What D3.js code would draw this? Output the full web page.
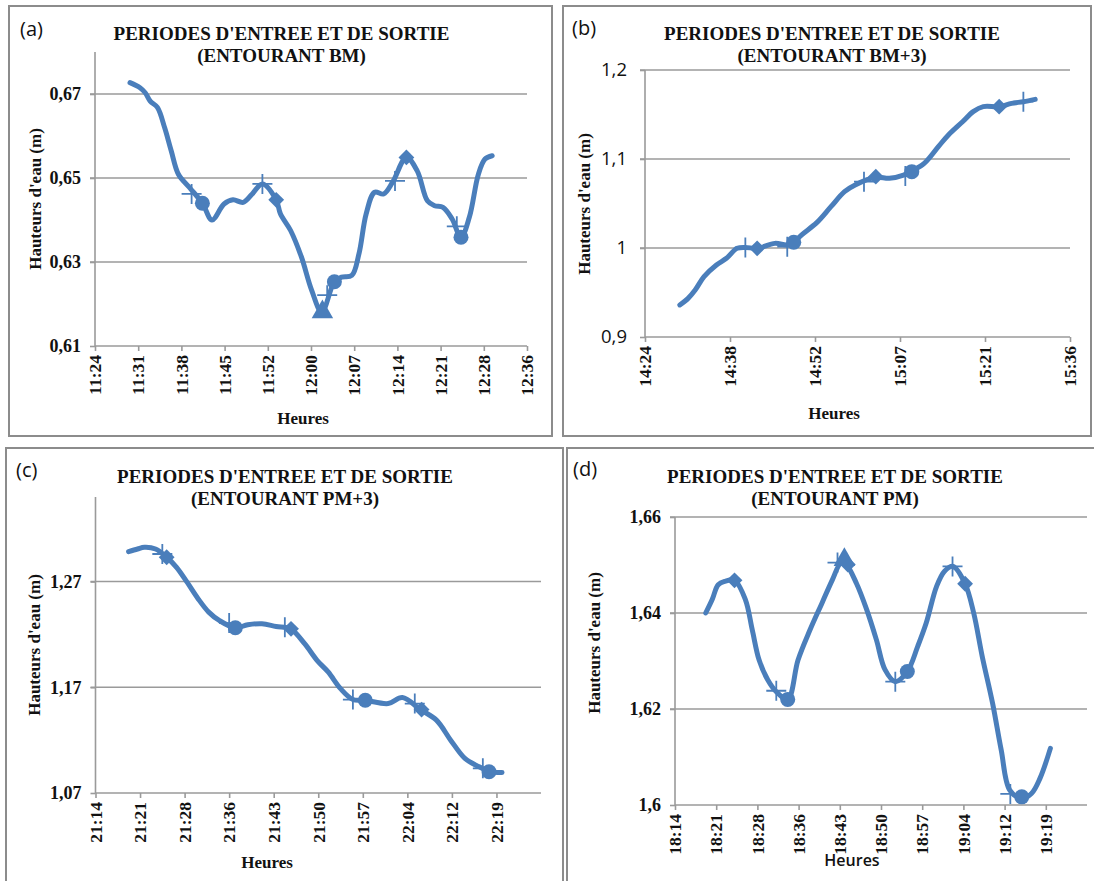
<!DOCTYPE html>
<html>
<head>
<meta charset="utf-8">
<script src="https://cdn.jsdelivr.net/npm/d3@7"></script>
<style>
  html, body { margin: 0; padding: 0; background: #ffffff; }
  svg { display: block; }
</style>
</head>
<body>
<svg id="chart" width="1094" height="881"></svg>
<script>
// ---- (a) Entourant BM ----
const lineTimesA = ["11:29:50","11:31:30","11:32:22","11:33:12","11:34:24","11:35:36","11:36:42","11:37:54","11:39:42","11:41:54","11:43:30","11:45:30","11:47:00","11:48:42","11:50:12","11:51:54","11:54:12","11:54:54","11:56:36","11:58:24","12:00:06","12:01:48","12:03:54","12:05:06","12:06:48","12:08:00","12:09:12","12:10:36","12:12:06","12:13:36","12:15:54","12:17:42","12:19:24","12:20:36","12:22:00","12:23:30","12:25:00","12:26:24","12:27:54","12:29:00","12:30:12"];
const lineHeightsA = [0.6727,0.6715,0.6703,0.6683,0.6668,0.6620,0.6565,0.6509,0.6478,0.6440,0.6400,0.6438,0.6448,0.6442,0.6462,0.6486,0.6448,0.6415,0.6375,0.6312,0.6233,0.6181,0.6253,0.6264,0.6268,0.6320,0.6415,0.6466,0.6462,0.6490,0.6549,0.6517,0.6446,0.6434,0.6430,0.6403,0.6359,0.6407,0.6509,0.6545,0.6553];
const crossA = [["11:40:06",0.6462],["11:51:54",0.6486],["12:02:42",0.6221],["12:14:00",0.6493],["12:24:18",0.6385]];
const circleA = [["11:41:54",0.6440],["12:03:54",0.6253],["12:25:00",0.6359]];
const diamondA = [["11:54:12",0.6448],["12:15:54",0.6549]];
const triangleA = [["12:01:54",0.6181]];
const xTickLabelsA = ["11:24","11:31","11:38","11:45","11:52","12:00","12:07","12:14","12:21","12:28","12:36"];
const yTicksA = [0.61, 0.63, 0.65, 0.67];

// ---- (b) Entourant BM+3 ----
const lineTimesB = ["14:29:54","14:31:18","14:32:30","14:34:00","14:36:06","14:37:48","14:39:36","14:41:00","14:43:00","14:46:00","14:48:06","14:49:12","14:50:30","14:53:06","14:55:30","14:57:48","14:59:36","15:03:06","15:05:24","15:07:48","15:09:00","15:11:18","15:13:42","15:15:24","15:17:48","15:19:36","15:21:18","15:24:00","15:26:06","15:28:06","15:30:06"];
const lineHeightsB = [0.936,0.9434,0.9528,0.9678,0.9809,0.9884,0.9996,1.0007,0.9996,1.0052,1.0035,1.0064,1.0146,1.0285,1.0464,1.0633,1.0708,1.0794,1.0783,1.0820,1.0858,1.0951,1.1139,1.1270,1.1419,1.1532,1.1588,1.1588,1.1625,1.1644,1.1670];
const crossB = [["14:41:00",1.0007],["14:48:06",1.0015],["15:01:06",1.0745],["15:08:06",1.0809],["15:28:06",1.1644]];
const circleB = [["14:49:12",1.0064],["15:09:12",1.0858]];
const diamondB = [["14:43:00",0.9996],["15:03:06",1.0801],["15:24:00",1.1588]];
const triangleB = [];
const xTickLabelsB = ["14:24","14:38","14:52","15:07","15:21","15:36"];
const yTicksB = [0.9, 1.0, 1.1, 1.2];

// ---- (c) Entourant PM+3 ----
const lineTimesC = ["21:19:45","21:21:12","21:22:18","21:24:06","21:25:54","21:27:30","21:29:12","21:31:00","21:32:42","21:34:24","21:37:00","21:39:00","21:41:18","21:43:36","21:45:54","21:48:12","21:50:12","21:52:00","21:54:00","21:56:00","21:58:00","22:01:42","22:04:00","22:06:54","22:09:30","22:11:48","22:14:06","22:16:24","22:18:06","22:20:06"];
const lineHeightsC = [1.2983,1.3008,1.3024,1.3008,1.2930,1.2835,1.2694,1.2536,1.2411,1.2332,1.2263,1.2291,1.2301,1.2275,1.2253,1.2112,1.1955,1.1845,1.1687,1.1584,1.1577,1.1546,1.1603,1.1489,1.1389,1.1200,1.1027,1.0948,1.0901,1.0895];
const crossC = [["21:25:12",1.2961],["21:36:00",1.2307],["21:45:00",1.2269],["21:56:00",1.1584],["22:06:00",1.1546],["22:17:00",1.0933]];
const circleC = [["21:37:00",1.2263],["21:58:00",1.1577],["22:18:00",1.0901]];
const diamondC = [["21:25:54",1.2930],["21:46:00",1.2253],["22:07:06",1.1489]];
const triangleC = [];
const xTickLabelsC = ["21:14","21:21","21:28","21:36","21:43","21:50","21:57","22:04","22:12","22:19"];
const yTicksC = [1.07, 1.17, 1.27];

// ---- (d) Entourant PM ----
const lineTimesD = ["18:19:46","18:20:54","18:21:57","18:23:09","18:24:48","18:26:42","18:27:54","18:29:06","18:30:36","18:32:06","18:34:06","18:35:54","18:38:00","18:40:06","18:41:54","18:43:24","18:44:18","18:46:06","18:47:54","18:49:36","18:51:06","18:52:54","18:55:00","18:56:48","18:58:18","19:00:06","19:01:30","19:03:00","19:05:06","19:06:36","19:08:06","19:09:54","19:11:24","19:12:54","19:15:00","19:16:42","19:18:12","19:20:00"];
const lineHeightsD = [1.6400,1.6428,1.6459,1.6466,1.6468,1.6428,1.6365,1.6302,1.6261,1.6236,1.6220,1.6302,1.6365,1.6421,1.6469,1.6504,1.6501,1.6462,1.6407,1.6344,1.6282,1.6257,1.6278,1.6330,1.6379,1.6455,1.6487,1.6497,1.6461,1.6400,1.6309,1.6212,1.6115,1.6031,1.6014,1.6024,1.6056,1.6118];
const crossD = [["18:32:06",1.6238],["18:42:48",1.6505],["18:52:54",1.6257],["19:02:54",1.6497],["19:13:00",1.6023]];
const circleD = [["18:34:06",1.6220],["18:55:00",1.6278],["19:15:00",1.6017]];
const diamondD = [["18:24:48",1.6468],["18:44:36",1.6501],["19:05:06",1.6461]];
const triangleD = [["18:44:00",1.6511]];
const xTickLabelsD = ["18:14","18:21","18:28","18:36","18:43","18:50","18:57","19:04","19:12","19:19"];
const yTicksD = [1.6, 1.62, 1.64, 1.66];

const titleLine1 = "PERIODES D'ENTREE ET DE SORTIE";
const subtitles = ["(ENTOURANT BM)", "(ENTOURANT BM+3)", "(ENTOURANT PM+3)", "(ENTOURANT PM)"];
const panelLetters = ["(a)", "(b)", "(c)", "(d)"];
const yAxisTitle = "Hauteurs d'eau (m)";
const xAxisTitle = "Heures";

// time axis step: 0.005 day (7.2 min) or 0.01 day (14.4 min)
const toMin = s => { const p = s.split(":").map(Number); return p[0] * 60 + p[1] + (p[2] || 0) / 60; };
const fmtDec = v => d3.format("")(+v.toFixed(2)).replace(".", ",");

const BLUE = "#4A7EBB";
const GRID = "#9a9a9a";
const serif = "'Liberation Serif', 'Times New Roman', serif";
const sans = "'Open Sans', 'Liberation Sans', sans-serif";

const svg = d3.select("#chart");

const panels = [
  { box: [9, 6, 552, 436], letter: [20, 36], title: [281.5, 40, 62],
    x0: "11:24:00", step: 7.2, nInt: 10, xr: [95, 527], yd: [0.61, 0.68], yr: [346, 52],
    times: lineTimesA, heights: lineHeightsA, cross: crossA, circle: circleA, diamond: diamondA, triangle: triangleA,
    xLabels: xTickLabelsA, yTicks: yTicksA, yLabelSans: false, yTitle: [35, 199], xTitle: [303, 424], xTitleSans: false },
  { box: [563, 6, 1091, 436], letter: [572, 35], title: [832, 40, 62],
    x0: "14:24:00", step: 14.4, nInt: 5, xr: [645, 1070], yd: [0.9, 1.2], yr: [337, 70],
    times: lineTimesB, heights: lineHeightsB, cross: crossB, circle: circleB, diamond: diamondB, triangle: triangleB,
    xLabels: xTickLabelsB, yTicks: yTicksB, yLabelSans: true, yTitle: [584, 204], xTitle: [834, 419], xTitleSans: false },
  { box: [6, 448, 563, 884], letter: [16, 477], title: [285, 483, 505],
    x0: "21:14:24", step: 7.2, nInt: 10, xr: [95.5, 541], yd: [1.07, 1.35], yr: [793, 497],
    times: lineTimesC, heights: lineHeightsC, cross: crossC, circle: circleC, diamond: diamondC, triangle: triangleC,
    xLabels: xTickLabelsC, yTicks: yTicksC, yLabelSans: false, yTitle: [34, 645], xTitle: [267, 868], xTitleSans: false },
  { box: [567, 448, 1095, 884], letter: [573, 476], title: [835, 483, 505],
    x0: "18:14:24", step: 7.2, nInt: 10, xr: [675, 1087], yd: [1.6, 1.66], yr: [805, 517],
    times: lineTimesD, heights: lineHeightsD, cross: crossD, circle: circleD, diamond: diamondD, triangle: triangleD,
    xLabels: xTickLabelsD, yTicks: yTicksD, yLabelSans: false, yTitle: [594, 643], xTitle: [852, 866], xTitleSans: true }
];

panels.forEach((p, i) => {
  const g = svg.append("g");
  // frame
  g.append("rect")
    .attr("x", p.box[0]).attr("y", p.box[1])
    .attr("width", p.box[2] - p.box[0]).attr("height", p.box[3] - p.box[1])
    .attr("fill", "#fff").attr("stroke", "#8c8c8c").attr("stroke-width", 2);

  const t0 = toMin(p.x0);
  const x = d3.scaleLinear().domain([t0, t0 + p.step * p.nInt]).range(p.xr);
  const y = d3.scaleLinear().domain(p.yd).range(p.yr);
  const yBase = p.yr[0];

  // horizontal gridlines
  g.append("g").selectAll("line").data(p.yTicks.filter(v => v !== p.yd[0])).join("line")
    .attr("x1", p.xr[0] - 5).attr("x2", p.xr[1])
    .attr("y1", d => y(d)).attr("y2", d => y(d))
    .attr("stroke", GRID).attr("stroke-width", 1.6);

  // y axis
  const yAxis = d3.axisLeft(y).tickValues(p.yTicks).tickSize(5).tickSizeOuter(0).tickPadding(p.yLabelSans ? 13 : 9)
    .tickFormat(fmtDec);
  const ya = g.append("g").attr("transform", `translate(${p.xr[0]},0)`).call(yAxis);
  ya.select(".domain").attr("stroke", GRID).attr("stroke-width", 1.6).attr("d", `M0,${p.yr[1]}V${p.yr[0]}`);
  ya.selectAll(".tick line").attr("stroke", GRID).attr("stroke-width", 1.6);
  ya.selectAll(".tick text")
    .attr("fill", "#111")
    .style("font-family", p.yLabelSans ? sans : serif)
    .style("font-weight", p.yLabelSans ? "400" : "700")
    .style("font-size", p.yLabelSans ? "18.5px" : "18px");

  // x axis (time)
  const xTickVals = p.xLabels.map((_, k) => t0 + k * p.step);
  const xAxis = d3.axisBottom(x).tickValues(xTickVals).tickSize(5).tickSizeOuter(0)
    .tickFormat((d, k) => p.xLabels[k]);
  const xa = g.append("g").attr("transform", `translate(0,${yBase})`).call(xAxis);
  xa.select(".domain").attr("stroke", GRID).attr("stroke-width", 1.6).attr("d", `M${p.xr[0]},0H${p.xr[1]}`);
  xa.selectAll(".tick line").attr("stroke", GRID).attr("stroke-width", 1.6);
  xa.selectAll(".tick text")
    .attr("fill", "#111")
    .style("font-family", serif).style("font-weight", "700").style("font-size", "17.5px")
    .attr("text-anchor", "end")
    .attr("transform", "rotate(-90)")
    .attr("x", -9).attr("y", 0).attr("dy", "0.33em");

  // smoothed series line
  const pts = p.times.map((t, k) => [toMin(t), p.heights[k]]);
  g.append("path")
    .attr("d", d3.line().x(d => x(d[0])).y(d => y(d[1])).curve(d3.curveCatmullRom.alpha(0.5))(pts))
    .attr("fill", "none").attr("stroke", BLUE).attr("stroke-width", 5)
    .attr("stroke-linejoin", "round").attr("stroke-linecap", "round");

  // markers
  const mk = g.append("g");
  mk.selectAll(".cross").data(p.cross).join("path")
    .attr("d", d => { const cx = x(toMin(d[0])), cy = y(d[1]); return `M${cx - 10},${cy}H${cx + 10}M${cx},${cy - 10}V${cy + 10}`; })
    .attr("stroke", BLUE).attr("stroke-width", 1.8).attr("fill", "none");
  mk.selectAll(".circ").data(p.circle).join("circle")
    .attr("cx", d => x(toMin(d[0]))).attr("cy", d => y(d[1])).attr("r", 7.5).attr("fill", BLUE);
  mk.selectAll(".diam").data(p.diamond).join("path")
    .attr("d", d3.symbol().type(d3.symbolSquare).size(125))
    .attr("transform", d => `translate(${x(toMin(d[0]))},${y(d[1])}) rotate(45)`)
    .attr("fill", BLUE);
  mk.selectAll(".tri").data(p.triangle).join("path")
    .attr("d", d3.symbol().type(d3.symbolTriangle).size(200))
    .attr("transform", d => `translate(${x(toMin(d[0]))},${y(d[1])})`)
    .attr("fill", BLUE);

  // titles and labels
  g.append("text").attr("x", p.letter[0]).attr("y", p.letter[1])
    .style("font-family", sans).style("font-size", "20px").attr("fill", "#111").text(panelLetters[i]);
  g.append("text").attr("x", p.title[0]).attr("y", p.title[1]).attr("text-anchor", "middle")
    .style("font-family", serif).style("font-weight", "700").style("font-size", "19px").attr("fill", "#111").text(titleLine1);
  g.append("text").attr("x", p.title[0]).attr("y", p.title[2]).attr("text-anchor", "middle")
    .style("font-family", serif).style("font-weight", "700").style("font-size", "19px").attr("fill", "#111").text(subtitles[i]);
  g.append("text")
    .attr("transform", `translate(${p.yTitle[0]},${p.yTitle[1]}) rotate(-90)`)
    .attr("text-anchor", "middle").attr("dy", "0.35em")
    .style("font-family", serif).style("font-weight", "700").style("font-size", "17px").attr("fill", "#111").text(yAxisTitle);
  g.append("text").attr("x", p.xTitle[0]).attr("y", p.xTitle[1]).attr("text-anchor", "middle")
    .style("font-family", p.xTitleSans ? sans : serif).style("font-weight", p.xTitleSans ? "600" : "700")
    .style("font-size", p.xTitleSans ? "16px" : "17px").attr("fill", "#111").text(xAxisTitle);
});
</script>
</body>
</html>
